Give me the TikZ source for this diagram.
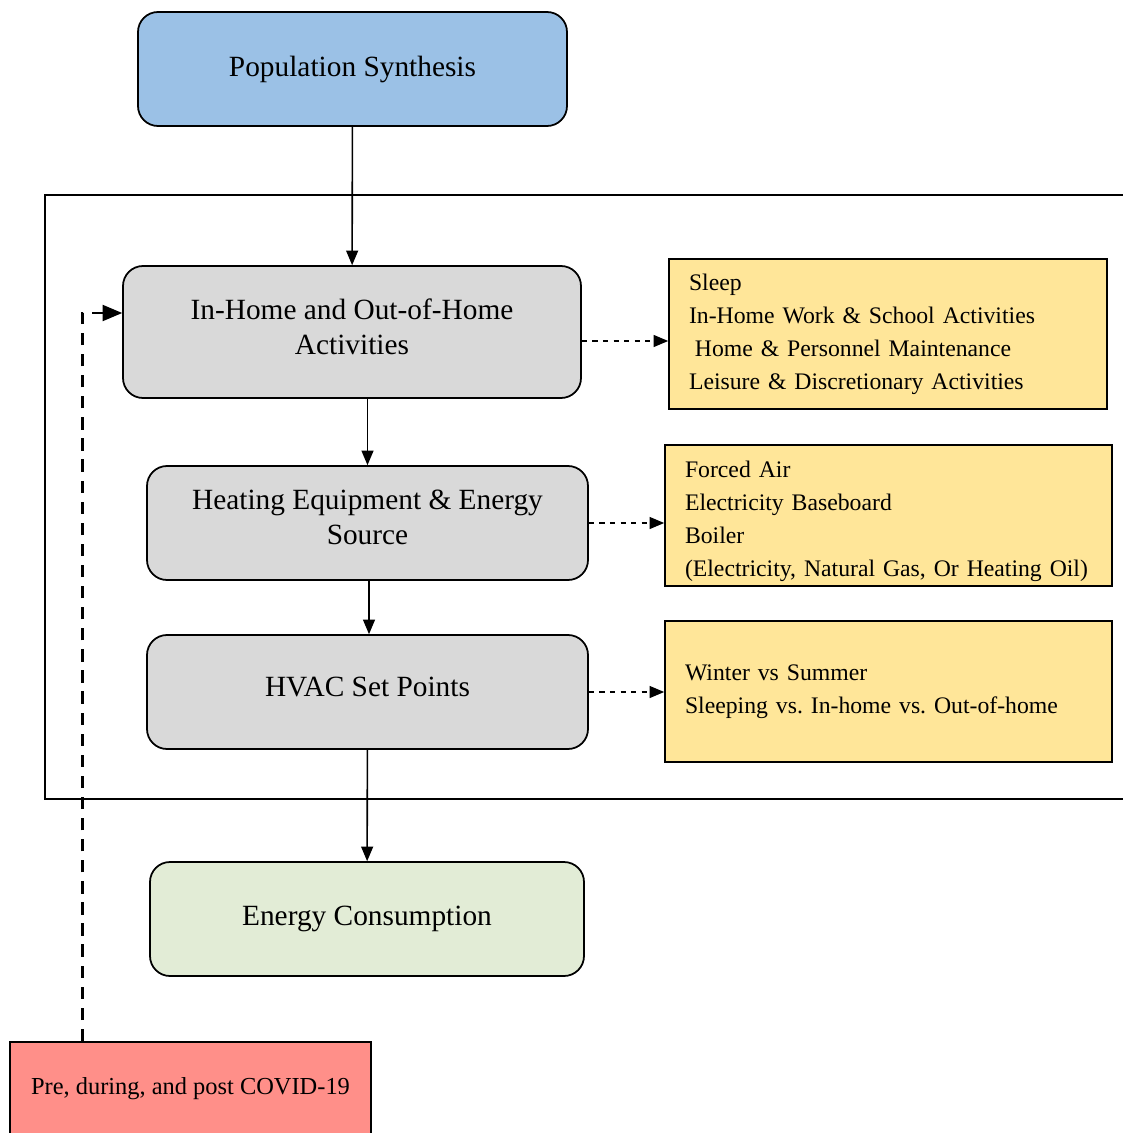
\documentclass[tikz,border=0pt]{standalone}
\usepackage{fontspec}
\setmainfont{Liberation Serif}
\usepackage{xcolor}
\usetikzlibrary{arrows}
\definecolor{popblue}{RGB}{155,193,230}
\definecolor{actgray}{RGB}{217,217,217}
\definecolor{listyellow}{RGB}{255,230,153}
\definecolor{usegreen}{RGB}{226,236,214}
\definecolor{covidred}{RGB}{255,143,137}
\newcommand{\lift}[1]{\rule[-#1]{0pt}{0pt}}
\tikzset{
	main node/.style={draw,rounded corners=0.4cm,line width=1pt,align=center,
		font=\fontsize{16.7}{20}\selectfont,minimum height=2.28cm},
	list node/.style={draw,line width=1pt,fill=listyellow,align=left,
		font=\fontsize{13.5}{18.8}\selectfont\frenchspacing,inner xsep=0.4cm,inner ysep=0pt},
	link/.style={->,line width=0.9pt},
	dash link/.style={->,dashed,line width=0.9pt}
}

\begin{document}
\begin{tikzpicture}[>=triangle 45]
	\useasboundingbox (0,0) rectangle (22.46,-22.66);
	% frame round the activity model
	\draw[line width=1pt] (22.6,-3.9) -- (0.9,-3.9) -- (0.9,-15.98) -- (22.6,-15.98);
	\node [main node,fill=popblue,minimum width=8.58cm] (pop) at (7.05,-1.38) {Population Synthesis\lift{0.12cm}};
	\node [main node,fill=actgray,minimum width=9.16cm,minimum height=2.64cm] (inhome) at (7.04,-6.64)
		{In-Home and Out-of-Home\\Activities\lift{0.2cm}};
	\node [main node,fill=actgray,minimum width=8.82cm] (heat) at (7.35,-10.46)
		{Heating Equipment \& Energy\\Source\lift{0.24cm}};
	\node [main node,fill=actgray,minimum width=8.82cm] (hvac) at (7.35,-13.84) {HVAC Set Points\lift{0.2cm}};
	\node [main node,fill=usegreen,minimum width=8.68cm] (energy) at (7.34,-18.38) {Energy Consumption};
	\node [draw,line width=1pt,fill=covidred,minimum width=7.22cm,minimum height=1.88cm,
		font=\fontsize{13.9}{16}\selectfont] (covid) at (3.81,-21.78) {Pre, during, and post COVID-19};
	% lists
	\node [list node,text width=7.96cm,minimum height=3cm] (acts) at (17.76,-6.68)
		{Sleep\\In-Home Work \& School Activities\\\hspace{0.25em}Home \& Personnel Maintenance\\Leisure \& Discretionary Activities};
	\node [list node,text width=8.14cm,minimum height=2.82cm] (equip) at (17.77,-10.31)
		{\rule{0pt}{0.55cm}Forced Air\\Electricity Baseboard\\Boiler\\(Electricity, Natural Gas, Or Heating Oil)};
	\node [list node,text width=8.14cm,minimum height=2.82cm] (setp) at (17.77,-13.83)
		{Winter vs Summer\\Sleeping vs. In-home vs. Out-of-home};
	% flow
	\draw[link] (pop) -- (inhome);
	\draw[link] (heat.north |- inhome.south) -- (heat.north);
	\draw[link] ([xshift=0.03cm]heat.south) -- ([xshift=0.03cm]hvac.north);
	\draw[link] (hvac) -- (energy);
	\draw[dash link] ([yshift=-0.18cm]inhome.east) -- ([yshift=-0.18cm]inhome.east -| acts.west);
	\draw[dash link] (heat.east) -- (heat.east -| equip.west);
	\draw[dash link] (hvac.east) -- (hvac.east -| setp.west);
	\draw[dash link,line width=1.6pt,dash pattern=on 7pt off 5pt] ([xshift=1.46cm]covid.north west) |- ([yshift=0.38cm]inhome.west);
\end{tikzpicture}
\end{document}
